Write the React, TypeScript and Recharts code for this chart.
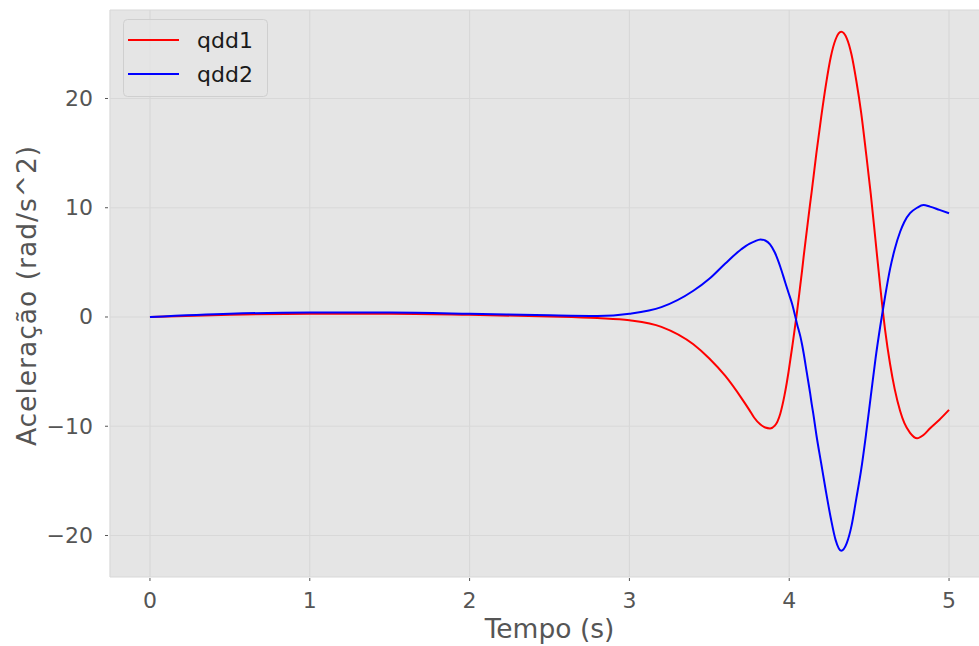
import React from 'react';
import { LineChart, Line, XAxis, YAxis, CartesianGrid, Legend } from 'recharts';

// Time samples (s)
const tempo = [
  0, 0.5, 1, 1.5, 2, 2.5, 2.8, 3.0, 3.2, 3.4, 3.5, 3.6, 3.7, 3.75, 3.78, 3.82, 3.85,
  3.88, 3.91, 3.944, 3.97, 3.985, 3.996, 4.02, 4.05, 4.07, 4.08, 4.09, 4.11, 4.131,
  4.14, 4.15, 4.17, 4.2, 4.23, 4.26, 4.29, 4.325, 4.36, 4.39, 4.42, 4.45, 4.48, 4.51,
  4.54, 4.57, 4.6, 4.631, 4.66, 4.694, 4.72, 4.756, 4.8, 4.84, 4.88, 4.94, 5.0,
];

// Joint 1 angular acceleration (rad/s^2)
const qdd1 = [
  0.0, 0.2, 0.3, 0.3, 0.2, 0.05, -0.1, -0.3, -0.9, -2.5, -3.8, -5.4, -7.4, -8.5, -9.2, -9.85, -10.12,
  -10.2, -9.95, -8.85, -7.2, -6.0, -5.0, -2.6, 0.6, 3.0, 4.2, 5.5, 7.9, 10.4,
  11.4, 12.6, 15.0, 18.3, 21.3, 23.8, 25.4, 26.1, 25.5, 24.0, 21.6, 18.7, 15.1, 11.3,
  7.0, 2.7, -1.2, -4.3, -6.6, -8.6, -9.7, -10.6, -11.1, -10.8, -10.2, -9.4, -8.5,
];

// Joint 2 angular acceleration (rad/s^2)
const qdd2 = [
  0.0, 0.3, 0.4, 0.4, 0.3, 0.15, 0.1, 0.3, 0.9, 2.4, 3.5, 4.9, 6.2, 6.7, 6.9, 7.1, 7.0,
  6.65, 5.9, 4.6, 3.4, 2.7, 2.2, 1.1, -0.7, -1.8, -2.5, -3.3, -5.1, -7.0,
  -7.9, -8.8, -10.8, -13.4, -16.0, -18.4, -20.4, -21.4, -20.7, -19.1, -16.6, -14.0, -10.8, -7.3,
  -3.8, -0.8, 1.9, 4.4, 6.2, 7.8, 8.7, 9.5, 10.0, 10.25, 10.1, 9.8, 9.5,
];

const xTicks = [0, 1, 2, 3, 4, 5];
const yTicks = [-20, -10, 0, 10, 20];

const rows = tempo.map((t, i) => ({ t, qdd1: qdd1[i], qdd2: qdd2[i] }));

const FONT = '"DejaVu Sans", sans-serif';
const TICK_COLOR = '#555555';
const TICK_SIZE = 22;
const LABEL_SIZE = 26.5;

const fmt = (v: number) => (v < 0 ? '\u2212' + Math.abs(v) : String(v));

const XTick = (props: any) => {
  const { x, y, payload } = props;
  return (
    <g>
      <line x1={x} x2={x} y1={y + 1} y2={y + 4} stroke={TICK_COLOR} strokeWidth={1} />
      <text
        x={x}
        y={y + 23}
        textAnchor="middle"
        dominantBaseline="central"
        fill={TICK_COLOR}
        fontSize={TICK_SIZE}
        fontFamily={FONT}
      >
        {fmt(payload.value)}
      </text>
    </g>
  );
};

const YTick = (props: any) => {
  const { x, y, payload } = props;
  return (
    <g>
      <line x1={x - 5} x2={x - 2} y1={y} y2={y} stroke={TICK_COLOR} strokeWidth={1} />
      <text
        x={x - 17}
        y={y}
        textAnchor="end"
        dominantBaseline="central"
        fill={TICK_COLOR}
        fontSize={TICK_SIZE}
        fontFamily={FONT}
      >
        {fmt(payload.value)}
      </text>
    </g>
  );
};

const XLabel = (props: any) => {
  const vb = props.viewBox || { x: 110, y: 577, width: 879, height: 69 };
  return (
    <text
      x={vb.x + vb.width / 2}
      y={vb.y + 51}
      textAnchor="middle"
      dominantBaseline="central"
      fill={TICK_COLOR}
      fontSize={LABEL_SIZE}
      fontFamily={FONT}
    >
      Tempo (s)
    </text>
  );
};

const YLabel = (props: any) => {
  const vb = props.viewBox || { x: 0, y: 10, width: 110, height: 567 };
  const cx = 26;
  const cy = vb.y + vb.height / 2 + 2;
  return (
    <text
      x={cx}
      y={cy}
      transform={`rotate(-90, ${cx}, ${cy})`}
      textAnchor="middle"
      dominantBaseline="central"
      fill={TICK_COLOR}
      fontSize={LABEL_SIZE}
      fontFamily={FONT}
      letterSpacing={1}
    >
      Aceleração (rad/s^2)
    </text>
  );
};

const LegendBox = (props: any) => {
  const payload = props.payload || [];
  const w = 145;
  const h = 78;
  return (
    <svg width={w} height={h} style={{ display: 'block' }}>
      <rect
        x={0.5}
        y={0.5}
        width={w - 1}
        height={h - 1}
        rx={4}
        ry={4}
        fill="rgba(229,229,229,0.8)"
        stroke="#CFCFCF"
        strokeWidth={1}
      />
      {payload.map((entry: any, i: number) => {
        const cy = 21 + i * 34;
        return (
          <g key={entry.value}>
            <line x1={5} x2={56} y1={cy} y2={cy} stroke={entry.color} strokeWidth={2} />
            <text
              x={74}
              y={cy}
              dominantBaseline="central"
              fill="#1a1a1a"
              fontSize={TICK_SIZE}
              fontFamily={FONT}
            >
              {entry.value}
            </text>
          </g>
        );
      })}
    </svg>
  );
};

export default function App() {
  return (
    <div
      style={{
        position: 'absolute',
        left: 0,
        top: 0,
        width: 979,
        height: 646,
        overflow: 'hidden',
        background: '#ffffff',
      }}
    >
      <LineChart
        width={1000}
        height={646}
        data={rows}
        margin={{ top: 10, right: 11, bottom: 0, left: 0 }}
      >
        <CartesianGrid fill="#E5E5E5" stroke="#D8D8D8" strokeWidth={1.2} />
        <XAxis
          dataKey="t"
          type="number"
          domain={[-0.25, 5.25]}
          ticks={xTicks}
          allowDataOverflow
          height={69}
          axisLine={false}
          tickLine={false}
          tickSize={0}
          tickMargin={0}
          tick={<XTick />}
          interval={0}
          label={<XLabel />}
        />
        <YAxis
          type="number"
          domain={[-23.8, 28.1]}
          ticks={yTicks}
          allowDataOverflow
          width={110}
          axisLine={false}
          tickLine={false}
          tickSize={0}
          tickMargin={0}
          tick={<YTick />}
          interval={0}
          label={<YLabel />}
        />
        <Legend
          layout="horizontal"
          verticalAlign="middle"
          align="center"
          content={<LegendBox />}
          wrapperStyle={{ left: 123, top: 19, width: 145, height: 78 }}
        />
        <Line
          type="monotone"
          dataKey="qdd1"
          name="qdd1"
          stroke="#FF0000"
          strokeWidth={2}
          dot={false}
          isAnimationActive={false}
        />
        <Line
          type="monotone"
          dataKey="qdd2"
          name="qdd2"
          stroke="#0000FF"
          strokeWidth={2}
          dot={false}
          isAnimationActive={false}
        />
      </LineChart>
    </div>
  );
}
